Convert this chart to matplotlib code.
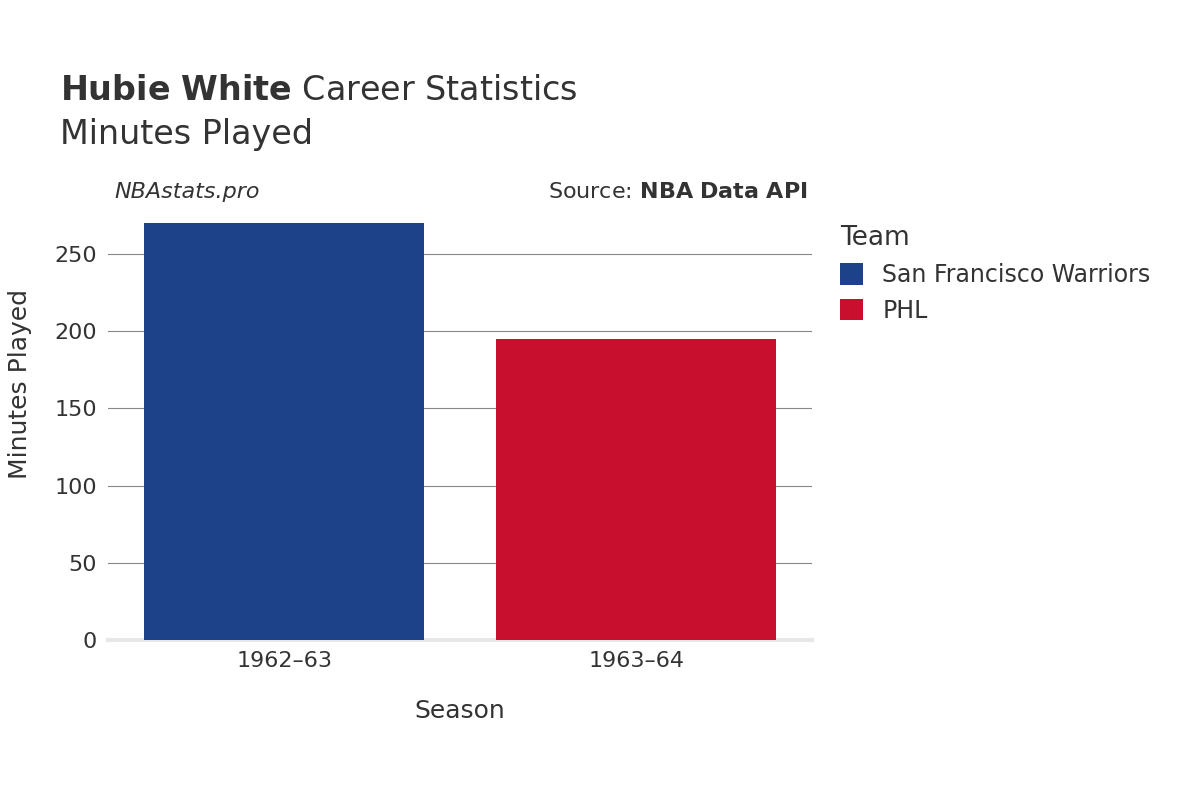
import matplotlib
matplotlib.use("Agg")
import matplotlib.pyplot as plt

seasons = ["1962–63", "1963–64"]
teams = ["San Francisco Warriors", "PHL"]
minutes = [270, 195]
colors = ["#1d428a", "#c8102e"]
yticks = [0, 50, 100, 150, 200, 250]

fig = plt.figure(figsize=(12, 8), dpi=100)
ax = fig.add_axes([0.09, 0.20, 0.587, 0.531])
x = list(range(len(seasons)))
for xi, v, c, t in zip(x, minutes, colors, teams):
    ax.bar(xi, v, width=0.795, color=c, label=t, zorder=3)
ax.set_xlim(-0.5, 1.5)
ax.set_ylim(0, 275)
ax.set_yticks(yticks)
ax.set_xticks(x)
ax.set_xticklabels(seasons)
ax.tick_params(axis="both", length=0, labelsize=16, colors="#333333", pad=8)
ax.grid(axis="y", color="#888888", linewidth=0.8, zorder=0)
for s in ["top", "right", "left"]:
    ax.spines[s].set_visible(False)
ax.spines["bottom"].set_color("#e8e8e8")
ax.spines["bottom"].set_linewidth(3)
ax.set_xlabel("Season", fontsize=18, color="#333333", labelpad=20)
fig.text(0.017, 0.52, "Minutes Played", fontsize=18, color="#333333",
         rotation=90, ha="center", va="center")

fig.text(0.05, 0.875, r"$\bf{Hubie\ White}$ Career Statistics", fontsize=24, color="#333333")
fig.text(0.05, 0.82, "Minutes Played", fontsize=24, color="#333333")
fig.text(0.095, 0.752, "NBAstats.pro", fontsize=16, style="italic", color="#333333")
fig.text(0.673, 0.752, r"Source: $\bf{NBA\ Data\ API}$", fontsize=16, color="#333333", ha="right")

leg = fig.legend(loc="upper left", bbox_to_anchor=(0.682, 0.745), frameon=False,
                 fontsize=17, title="Team", title_fontsize=19, handlelength=1.0,
                 handleheight=1.0, labelspacing=0.5, alignment="left")
for txt in leg.get_texts():
    txt.set_color("#333333")
leg.get_title().set_color("#333333")

fig.savefig("out.png", dpi=100)
